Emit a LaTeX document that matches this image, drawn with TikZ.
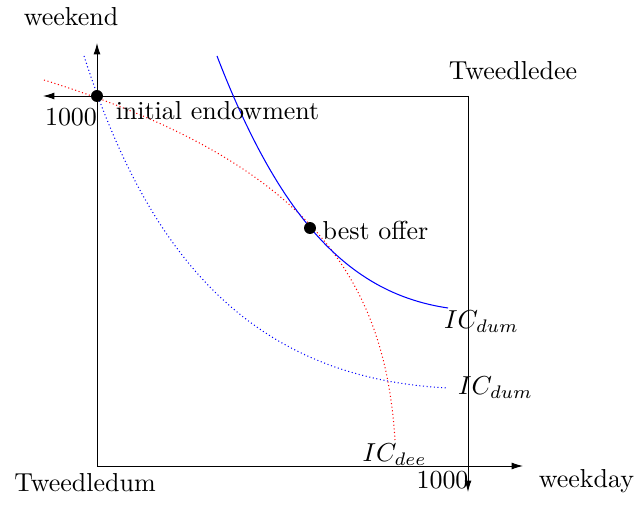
\documentclass[tikz,border=0pt]{standalone}
\usetikzlibrary{positioning,arrows.meta}

\begin{document}
\begin{tikzpicture}[x=0.385pt,y=0.385pt,
    endow/.style={circle,fill=black,inner sep=0pt,minimum size=4.6pt},
    axis/.style={line width=0.35pt,-{Latex[length=4.4pt,width=2.7pt]}},
    icdot/.style={densely dotted}]
    \useasboundingbox (-97,-54) rectangle (541,466);
    % origins of the box
    \coordinate (dum) at (0,0);
    \coordinate (dee) at (371,370);
    \coordinate (dumx) at (426,0);
    \coordinate (dumy) at (0,423);
    \coordinate (deex) at (-54,370);
    \coordinate (deey) at (371,-26);
    \draw[line width=0.35pt] (dum) rectangle (dee);
    \draw[axis] (dum) -- (dumx);
    \draw[axis] (dum) -- (dumy);
    \draw[axis] (dee) -- (deex);
    \draw[axis] (dee) -- (deey);
    % indifference curves
    \draw[blue,icdot] (-13,410) .. controls (50,215) and (150,88) .. (351,78);
    \draw[red,icdot] (-53,386) .. controls (213,303) and (288,187) .. (298,26);
    \draw[blue] (120,410) .. controls (185,241) and (256,172) .. (351,158);
    \node[endow] (initial) at (0,370) {};
    \node[endow] (offer) at (213,238) {};
    \node (initlab) at (120.5,355) {initial endowment};
    \node (offerlab) at (278.5,236) {best offer};
    \node (dumhi) at (384.5,144) {$IC_{dum}$};
    \node (dumlo) at (398.5,78) {$IC_{dum}$};
    \node (deelab) at (297.5,11) {$IC_{dee}$};
    % axis labels
    \node (weekend) at (-26,449) {weekend};
    \node (weekday) at (489.5,-15) {weekday};
    \node (dumname) at (-12,-17) {Tweedledum};
    \node (deename) at (416,395) {Tweedledee};
    \node (topmax) at (-26,348.5) {1000};
    \node (rightmax) at (345.5,-14) {1000};
\end{tikzpicture}
\end{document}
